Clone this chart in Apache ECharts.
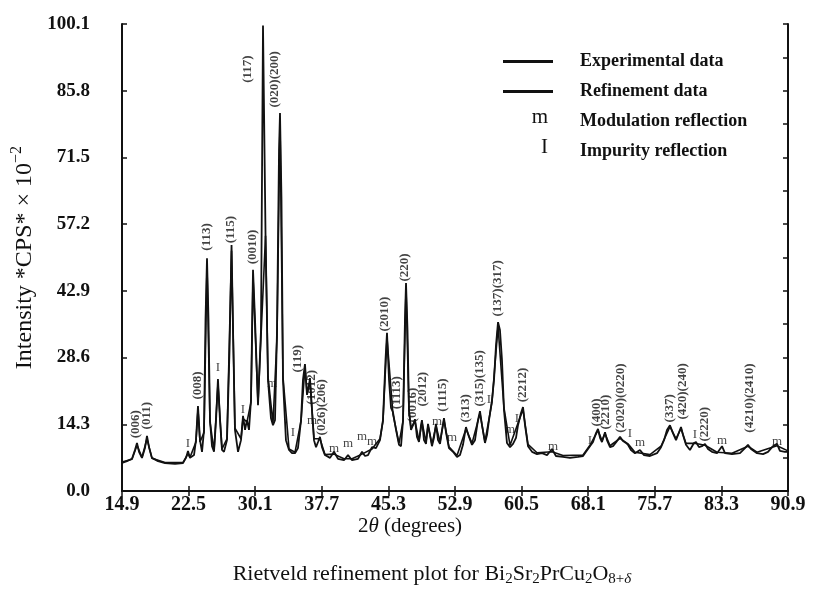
<!DOCTYPE html>
<html>
<head>
<meta charset="utf-8">
<title>Rietveld refinement plot</title>
<script src="https://cdn.jsdelivr.net/npm/echarts@6/dist/echarts.min.js"></script>
<style>
  html, body { margin: 0; padding: 0; background: #fff; }
  #chart { width: 816px; height: 595px; }
</style>
</head>
<body>
<div id="chart"></div>
<script>
// experimental pattern (2theta in degrees, intensity in CPS x 1e-2)
const twoTheta = [14.90, 15.47, 16.04, 16.38, 16.61, 16.84, 17.18, 17.52, 17.75, 17.98,
  18.32, 19.01, 19.81, 20.95, 21.86, 22.20, 22.43, 22.66, 23.12, 23.34,
  23.57, 23.80, 24.03, 24.26, 24.43, 24.60, 24.77, 24.94, 25.17, 25.40,
  25.63, 25.85, 26.08, 26.31, 26.54, 26.88, 27.17, 27.40, 27.57, 27.79,
  28.14, 28.48, 28.71, 28.94, 29.16, 29.39, 29.62, 29.85, 30.08, 30.42,
  30.76, 30.99, 31.28, 31.56, 31.90, 32.13, 32.36, 32.59, 32.82, 32.93,
  33.10, 33.27, 33.61, 33.96, 34.30, 34.64, 34.98, 35.33, 35.55, 35.78,
  36.01, 36.24, 36.35, 36.58, 36.81, 37.04, 37.27, 37.49, 37.72, 38.06,
  38.64, 39.09, 39.55, 40.23, 40.69, 41.15, 41.83, 42.29, 42.63, 42.97,
  43.43, 43.88, 44.34, 44.68, 44.97, 45.14, 45.37, 45.60, 45.82, 46.17,
  46.51, 46.74, 46.97, 47.19, 47.31, 47.48, 47.65, 47.88, 48.11, 48.33,
  48.56, 48.79, 49.02, 49.13, 49.36, 49.59, 49.82, 50.05, 50.27, 50.50,
  50.73, 50.96, 51.19, 51.42, 51.64, 51.87, 52.21, 52.67, 53.13, 53.47,
  53.81, 54.15, 54.50, 54.84, 55.18, 55.52, 55.75, 55.98, 56.32, 56.55,
  56.78, 57.12, 57.35, 57.58, 57.81, 58.03, 58.26, 58.49, 58.83, 59.18,
  59.52, 59.86, 60.09, 60.43, 60.66, 60.89, 61.23, 61.69, 62.26, 62.83,
  63.40, 63.97, 64.42, 65.22, 66.02, 66.93, 67.51, 67.85, 68.30, 68.65,
  68.99, 69.22, 69.45, 69.67, 70.02, 70.24, 70.59, 70.93, 71.38, 71.73,
  72.07, 72.41, 72.64, 72.98, 73.44, 74.01, 74.47, 75.15, 75.95, 76.41,
  76.75, 77.09, 77.43, 77.77, 78.12, 78.35, 78.69, 78.92, 79.26, 79.71,
  80.17, 80.40, 80.74, 81.08, 81.43, 81.77, 82.22, 82.80, 83.37, 83.71,
  84.51, 85.42, 85.99, 86.33, 86.68, 87.36, 88.05, 88.62, 89.19, 89.64,
  89.98, 90.55, 90.90];
const expIntensity = [6.0, 6.4, 6.9, 8.8, 10.3, 8.4, 7.1, 9.2, 11.8, 9.4,
  7.1, 6.4, 6.0, 5.8, 6.0, 7.1, 8.6, 7.1, 7.7, 10.9,
  18.2, 10.9, 8.4, 13.1, 36.7, 49.9, 36.7, 15.2, 9.6, 8.4,
  15.2, 24.0, 15.2, 8.8, 8.4, 10.9, 30.2, 52.7, 34.5, 13.1,
  8.4, 10.9, 16.1, 13.1, 15.2, 13.1, 19.5, 47.4, 36.7, 18.4,
  34.5, 99.8, 54.7, 23.8, 15.6, 14.1, 15.2, 34.5, 73.1, 81.0,
  62.4, 23.8, 10.9, 8.8, 8.1, 8.1, 9.2, 15.2, 23.8, 27.2,
  20.6, 22.7, 24.2, 17.4, 10.9, 9.4, 10.5, 11.6, 9.4, 7.7,
  7.1, 8.4, 6.9, 6.6, 7.7, 6.6, 6.9, 8.4, 7.5, 7.7,
  9.4, 9.2, 10.9, 15.2, 28.1, 33.9, 23.8, 17.8, 16.9, 13.1,
  9.9, 9.6, 15.2, 36.7, 44.6, 34.5, 17.4, 13.1, 14.1, 15.4,
  11.6, 10.5, 14.1, 15.2, 10.9, 10.1, 14.4, 12.0, 9.6, 11.4,
  14.4, 10.9, 10.1, 13.1, 15.6, 12.6, 9.2, 8.4, 7.3, 7.7,
  9.9, 13.7, 11.6, 9.9, 10.9, 15.2, 17.1, 14.1, 10.3, 12.0,
  15.2, 19.5, 23.8, 31.3, 36.2, 34.5, 28.1, 17.4, 10.3, 9.4,
  10.1, 11.4, 14.1, 16.7, 18.0, 14.1, 9.6, 8.4, 7.9, 8.1,
  7.7, 9.0, 7.5, 7.3, 7.1, 7.3, 7.5, 8.4, 9.6, 10.5,
  12.4, 13.3, 11.4, 10.5, 12.6, 10.9, 9.4, 9.6, 10.7, 11.6,
  10.7, 10.3, 9.9, 8.8, 8.1, 8.8, 7.7, 7.5, 8.1, 9.4,
  10.9, 13.1, 14.1, 12.4, 10.9, 12.0, 13.7, 12.0, 9.9, 8.8,
  10.3, 10.5, 9.4, 9.6, 10.1, 9.0, 8.4, 8.1, 9.6, 8.1,
  7.9, 8.1, 9.2, 9.9, 9.0, 8.1, 7.9, 8.4, 9.6, 10.1,
  8.6, 8.4, 8.4];

// refined profile (runs on top of the experimental one)
const refTwoTheta = [14.90, 16.04, 16.61, 17.18, 17.75, 18.32, 19.81, 21.86, 22.43, 22.66,
  23.34, 23.57, 23.80, 24.26, 24.60, 24.94, 25.40, 25.85, 26.31, 26.88,
  27.40, 27.79, 28.48, 28.71, 29.16, 29.62, 29.85, 30.42, 30.76, 31.28,
  31.56, 32.13, 32.59, 32.93, 33.27, 33.96, 34.64, 35.33, 35.78, 36.01,
  36.35, 36.81, 37.49, 38.06, 39.09, 40.23, 41.15, 42.29, 43.43, 44.34,
  44.68, 45.14, 45.82, 46.51, 46.97, 47.31, 47.65, 47.88, 48.33, 48.79,
  49.13, 49.59, 49.82, 50.27, 50.73, 51.19, 51.64, 52.21, 53.13, 54.15,
  54.84, 55.75, 56.32, 57.12, 57.81, 58.49, 59.18, 60.66, 61.23, 62.26,
  63.97, 65.22, 67.51, 68.30, 69.22, 69.67, 70.02, 70.59, 71.73, 72.64,
  73.44, 75.15, 76.41, 77.43, 78.12, 78.69, 79.26, 80.40, 81.43, 82.80,
  84.51, 86.33, 87.36, 89.64, 90.90];
const refIntensity = [6.2, 6.8, 9.8, 7.2, 11.2, 7.0, 6.1, 6.1, 8.0, 7.2,
  10.5, 17.5, 10.5, 12.5, 48.5, 14.8, 8.6, 23.0, 9.0, 11.2,
  51.5, 13.5, 11.2, 15.5, 14.8, 19.0, 46.0, 18.8, 33.0, 54.7,
  24.5, 14.5, 33.0, 79.5, 24.5, 9.0, 8.3, 15.0, 26.5, 21.0,
  23.5, 11.2, 11.2, 7.8, 7.9, 6.9, 6.9, 7.9, 9.0, 11.2,
  15.0, 32.8, 16.5, 10.2, 15.0, 43.5, 17.0, 13.5, 15.0, 10.8,
  14.8, 10.5, 14.0, 10.0, 14.0, 10.5, 15.2, 9.5, 7.6, 13.3,
  10.2, 16.6, 10.6, 19.0, 35.3, 17.8, 9.8, 17.5, 10.0, 8.2,
  8.4, 7.6, 7.7, 9.8, 13.0, 10.8, 12.3, 9.7, 11.3, 10.1,
  8.3, 7.8, 9.6, 13.8, 11.2, 13.4, 10.2, 10.2, 9.8, 8.3,
  8.1, 9.6, 8.3, 9.7, 8.6];

// Miller indices written above the peaks (position + height of the label foot)
const hklLabels = ['(006)', '(011)', '(008)', '(113)', '(115)', '(0010)', '(117)', '(020)(200)',
  '(119)', '(1012)', '(026)(206)', '(2010)', '(1113)', '(220)', '(0016)', '(2012)', '(1115)',
  '(313)', '(315)(135)', '(137)(317)', '(2212)', '(400)', '(2210)', '(2020)(0220)', '(337)',
  '(420)(240)', '(2220)', '(4210)(2410)'];
const hklTwoTheta = [16.50, 17.75, 23.57, 24.60, 27.34, 29.85, 29.28, 32.36, 35.00, 36.58,
  37.72, 44.91, 46.28, 47.19, 48.11, 49.25, 51.53, 54.15, 55.75, 57.81,
  60.66, 69.10, 70.13, 71.84, 77.43, 78.92, 81.43, 86.56];
const hklBase = [11.2, 13.1, 19.5, 51.4, 53.0, 48.5, 87.4, 82.1, 25.3, 18.4,
  11.8, 34.1, 17.4, 44.8, 14.6, 18.0, 16.9, 14.6, 18.0, 37.3,
  18.9, 13.7, 13.1, 12.4, 14.6, 15.2, 10.5, 12.4];

// "m" = modulation reflection, "I" = impurity reflection
const modTwoTheta = [32.02, 36.58, 39.09, 40.69, 42.29, 43.43, 50.84, 52.56, 59.18, 64.08, 74.01, 83.37, 89.64];
const modHeight = [23.1, 15.0, 9.2, 10.1, 11.6, 10.5, 14.8, 11.4, 13.1, 9.6, 10.3, 10.9, 10.7];
const impTwoTheta = [22.43, 25.85, 28.71, 34.41, 56.78, 59.97, 68.30, 72.87, 80.28];
const impHeight = [10.1, 26.4, 17.4, 12.6, 19.5, 15.6, 10.9, 12.4, 12.0];

const xTicks = [14.9, 22.5, 30.1, 37.7, 45.3, 52.9, 60.5, 68.1, 75.7, 83.3, 90.9];
const yTicks = [0.0, 14.3, 28.6, 42.9, 57.2, 71.5, 85.8, 100.1];

const serif = '"Liberation Serif", "DejaVu Serif", serif';
const ink = '#111';

function pairs(xs, ys) {
  return xs.map((x, i) => [x, ys[i]]);
}

// right-hand frame also carries half-step ticks
const yHalfTicks = [];
yTicks.forEach((v, i) => {
  if (i > 0) yHalfTicks.push(+((v + yTicks[i - 1]) / 2).toFixed(2));
  yHalfTicks.push(v);
});

const frameLine = { show: true, lineStyle: { color: ink, width: 2 } };

const chart = echarts.init(document.getElementById('chart'));
chart.setOption({
  animation: false,
  textStyle: { fontFamily: serif, color: ink },
  grid: { left: 122, right: 28, top: 24, bottom: 104, outerBoundsMode: 'none' },
  legend: {
    orient: 'vertical',
    left: 498,
    top: 46,
    itemWidth: 50,
    itemHeight: 3,
    itemGap: 9,
    selectedMode: false,
    formatter: name => '{g| }' + name,
    textStyle: {
      fontFamily: serif, fontSize: 18, fontWeight: 'bold', color: ink, lineHeight: 21,
      rich: { g: { width: 22 } }
    },
    data: [
      { name: 'Experimental data', icon: 'rect' },
      { name: 'Refinement data', icon: 'rect' },
      { name: 'Modulation reflection', icon: 'none' },
      { name: 'Impurity reflection', icon: 'none' }
    ]
  },
  xAxis: [{
    type: 'value', min: 14.9, max: 90.9,
    axisLine: frameLine,
    axisTick: { inside: true, length: 5, customValues: xTicks, lineStyle: { color: ink, width: 1.5 } },
    axisLabel: {
      customValues: xTicks, formatter: v => v.toFixed(1), margin: 4,
      fontFamily: serif, fontSize: 20, fontWeight: 'bold', color: ink
    },
    splitLine: { show: false }
  }, {
    type: 'value', position: 'top', min: 14.9, max: 90.9,
    axisLine: frameLine,
    axisTick: { inside: true, length: 5, customValues: xTicks, lineStyle: { color: ink, width: 1.5 } },
    axisLabel: { show: false },
    splitLine: { show: false }
  }],
  yAxis: [{
    type: 'value', min: 0, max: 100.1,
    name: 'Intensity *CPS* × 10{sup|−2}',
    nameLocation: 'middle', nameGap: 80, nameRotate: 90,
    nameTextStyle: {
      fontFamily: serif, fontSize: 24, color: ink,
      rich: { sup: { fontFamily: serif, fontSize: 16, color: ink, padding: [0, 0, 15, 0] } }
    },
    axisLine: frameLine,
    axisTick: { inside: true, length: 5, customValues: yTicks, lineStyle: { color: ink, width: 1.5 } },
    axisLabel: {
      customValues: yTicks, formatter: v => v.toFixed(1), margin: 32,
      fontFamily: serif, fontSize: 19, fontWeight: 'bold', color: ink
    },
    splitLine: { show: false }
  }, {
    type: 'value', position: 'right', min: 0, max: 100.1,
    axisLine: frameLine,
    axisTick: { inside: true, length: 5, customValues: yHalfTicks, lineStyle: { color: ink, width: 1.5 } },
    axisLabel: { show: false },
    splitLine: { show: false }
  }],
  series: [{
    name: 'Experimental data',
    type: 'line',
    data: pairs(twoTheta, expIntensity),
    symbol: 'none',
    lineStyle: { color: ink, width: 1.8 },
    itemStyle: { color: ink },
    z: 3
  }, {
    name: 'Refinement data',
    type: 'line',
    data: pairs(refTwoTheta, refIntensity),
    symbol: 'none',
    lineStyle: { color: ink, width: 1.6 },
    itemStyle: { color: ink },
    z: 2
  }, {
    name: 'hkl',
    type: 'scatter',
    silent: true,
    data: hklLabels.map((t, i) => ({ name: t, value: [hklTwoTheta[i], hklBase[i]] })),
    symbolSize: 1,
    itemStyle: { color: 'transparent' },
    label: {
      show: true, formatter: '{b}', position: 'top', distance: 0,
      rotate: 90, align: 'left', verticalAlign: 'middle',
      fontFamily: serif, fontSize: 13, fontWeight: 'bold', color: ink
    },
    z: 4
  }, {
    name: 'Modulation reflection',
    type: 'scatter',
    silent: true,
    data: pairs(modTwoTheta, modHeight),
    symbolSize: 1,
    itemStyle: { color: 'transparent' },
    label: { show: true, formatter: 'm', position: 'inside', fontFamily: serif, fontSize: 13, color: ink },
    z: 4
  }, {
    name: 'Impurity reflection',
    type: 'scatter',
    silent: true,
    data: pairs(impTwoTheta, impHeight),
    symbolSize: 1,
    itemStyle: { color: 'transparent' },
    label: { show: true, formatter: 'I', position: 'inside', fontFamily: serif, fontSize: 13, color: ink },
    z: 4
  }],
  graphic: [{
    type: 'text', x: 548, y: 117,
    style: { text: 'm', align: 'right', verticalAlign: 'middle', fontFamily: serif, fontSize: 21, fill: ink }
  }, {
    type: 'text', x: 548, y: 147,
    style: { text: 'I', align: 'right', verticalAlign: 'middle', fontFamily: serif, fontSize: 21, fill: ink }
  }, {
    type: 'text', x: 410, y: 526,
    style: {
      text: '2{it|θ} (degrees)', align: 'center', verticalAlign: 'middle',
      fontFamily: serif, fontSize: 21, fill: ink,
      rich: { it: { fontFamily: serif, fontSize: 21, fontStyle: 'italic' } }
    }
  }, {
    type: 'text', x: 432, y: 574,
    style: {
      text: 'Rietveld refinement plot for Bi{sub|2}Sr{sub|2}PrCu{sub|2}O{sub|8+}{subi|δ}',
      align: 'center', verticalAlign: 'middle',
      fontFamily: serif, fontSize: 22, fill: ink,
      rich: {
        sub: { fontFamily: serif, fontSize: 15, padding: [10, 0, 0, 0] },
        subi: { fontFamily: serif, fontSize: 15, fontStyle: 'italic', padding: [10, 0, 0, 0] }
      }
    }
  }]
});
</script>
</body>
</html>
